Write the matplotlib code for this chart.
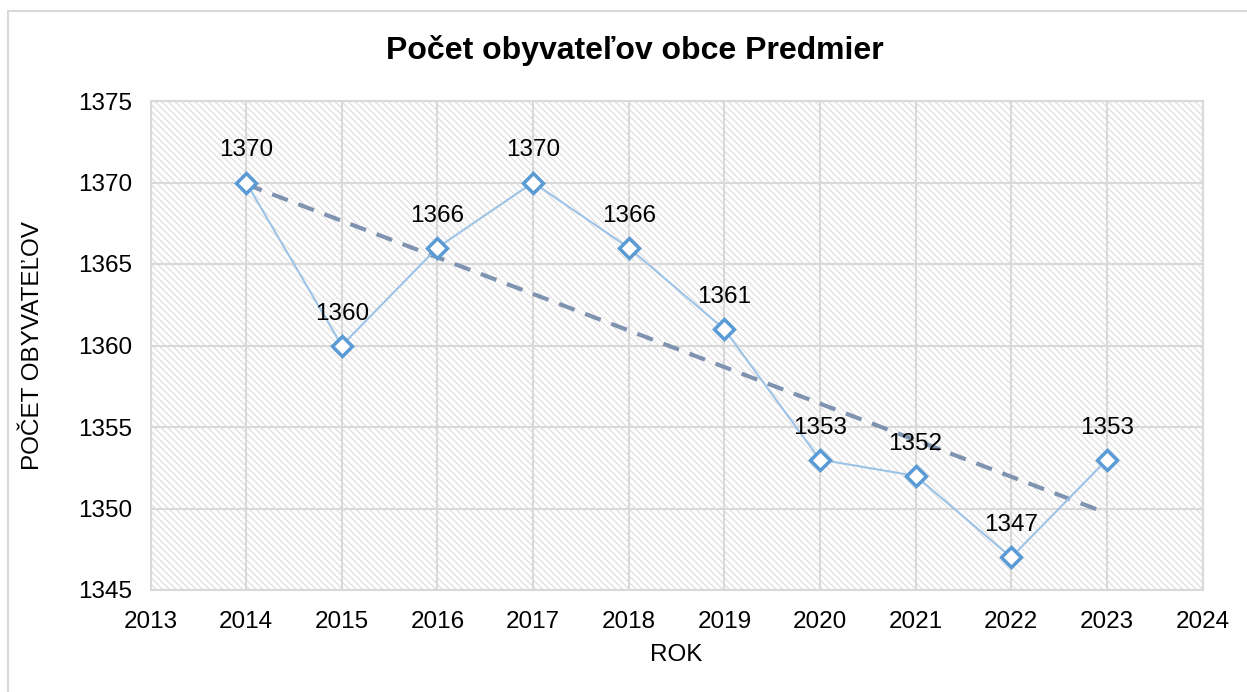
import matplotlib.pyplot as plt
import numpy as np
from matplotlib.patches import Rectangle

plt.rcParams['font.family'] = ['Liberation Sans', 'DejaVu Sans']
plt.rcParams['hatch.linewidth'] = 0.9

roky = [2014, 2015, 2016, 2017, 2018, 2019, 2020, 2021, 2022, 2023]
obyvatelia = [1370, 1360, 1366, 1370, 1366, 1361, 1353, 1352, 1347, 1353]
x_ticks = list(range(2013, 2025))
y_ticks = [1345, 1350, 1355, 1360, 1365, 1370, 1375]

fig = plt.figure(figsize=(12.47, 6.92), dpi=100)
ax = fig.add_axes([150.5 / 1247, 1 - 590 / 692, 1052 / 1247, 489 / 692])

# ramik okolo celeho grafu
fig.patches.append(Rectangle((8 / 1247, -0.1), 1.2, 0.1 + (692 - 11) / 692,
                             transform=fig.transFigure, fill=False,
                             edgecolor='#d9d9d9', lw=1.5))

# srafovana plocha grafu
ax.add_patch(Rectangle((0, 0), 1, 1, transform=ax.transAxes, facecolor='white',
                       hatch='\\\\\\\\\\', edgecolor='#dedede', lw=0, zorder=0))

ax.set_xlim(2013, 2024)
ax.set_ylim(1345, 1375)
ax.set_xticks(x_ticks)
ax.set_yticks(y_ticks)
ax.grid(True, color='#d9d9d9', lw=1.5, zorder=1)
ax.set_axisbelow(True)
for s in ax.spines.values():
    s.set_color('#d9d9d9')
    s.set_linewidth(1.5)
ax.tick_params(length=0, labelsize=17.5)
ax.tick_params(axis='x', pad=15)
ax.tick_params(axis='y', pad=13)

# linearny trend
k, q = np.polyfit(roky, obyvatelia, 1)
tx = np.array([roky[0], roky[-1]])
ax.plot(tx, k * tx + q, color='#7f93b0', lw=3, dashes=(4, 2.7), zorder=2)

ax.plot(roky, obyvatelia, color='#9dc3e6', lw=1.5, zorder=3)
ax.plot(roky, obyvatelia, ls='none', marker='D', ms=10, mfc='white',
        mec='#5b9bd5', mew=2.5, zorder=4)

for r, o in zip(roky, obyvatelia):
    ax.annotate(str(o), (r, o), xytext=(0, 21), textcoords='offset pixels',
                ha='center', va='bottom', fontsize=17.5, zorder=5)

fig.text(635 / 1247, 1 - 50 / 692, 'Počet obyvateľov obce Predmier',
         fontsize=23, fontweight='bold', ha='center', va='center')
ax.set_xlabel('ROK', fontsize=17.5)
ax.set_ylabel('POČET OBYVATEĽOV', fontsize=17.5)
ax.xaxis.set_label_coords(0.5, (590 - 655) / 489)
ax.yaxis.set_label_coords((33 - 150.5) / 1052, 0.5)
ax.xaxis.label.set_va('center')
ax.yaxis.label.set_va('center')

fig.savefig('out.png', dpi=100)
